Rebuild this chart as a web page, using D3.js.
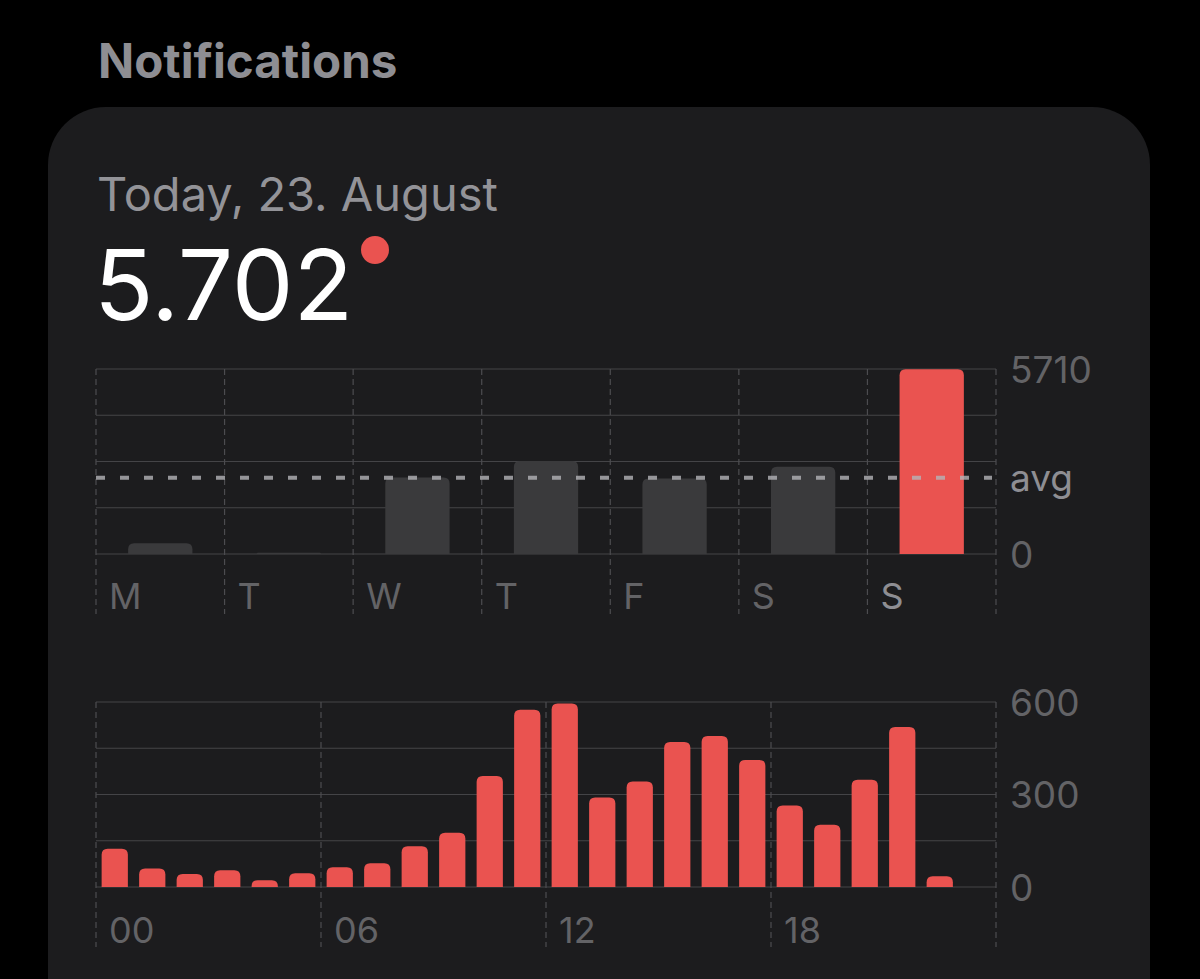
<!DOCTYPE html>
<html>
<head>
<meta charset="utf-8">
<script src="https://cdn.jsdelivr.net/npm/d3@7"></script>
<style>
  html, body { margin: 0; padding: 0; background: #000; }
  svg { display: block; }
  text { font-family: Inter, "Liberation Sans", Arial, sans-serif; }
</style>
</head>
<body>
<svg id="chart" width="1200" height="979"></svg>
<script>
// ---- data ----
const sectionTitle = "Notifications";
const dateLabel = "Today, 23. August";
const totalLabel = "5.702";

const days = ["M", "T", "W", "T", "F", "S", "S"];
const dayValues = [330, 40, 2360, 2870, 2330, 2695, 5702];
const dayMax = 5710;
const avgValue = 2350;
const dayTickLabels = ["0", "avg", "5710"];

const hours = [0,1,2,3,4,5,6,7,8,9,10,11,12,13,14,15,16,17,18,19,20,21,22,23];
const hourValues = [124, 60, 42, 54, 22, 45, 64, 77, 132, 176, 360, 575, 595, 290, 342, 470, 490, 412, 264, 202, 348, 519, 35, 0];
const hourMax = 600;
const hourTicks = [0, 300, 600];
const hourTickLabels = ["00", "06", "12", "18"];
const hourTickHours = [0, 6, 12, 18];

// ---- style ----
const C = {
  bg: "#000000", card: "#1c1c1e", grid: "#444447", vgrid: "#4c4c50",
  gray: "#3a3a3c", red: "#ea5350", label: "#636366", labelHi: "#8e8e93",
  title: "#8e8e93", white: "#ffffff"
};

const svg = d3.select("#chart");
svg.append("rect").attr("width", 1200).attr("height", 979).attr("fill", C.bg);

// card
svg.append("rect").attr("x", 48).attr("y", 107).attr("width", 1102).attr("height", 960)
  .attr("rx", 58).attr("fill", C.card);

svg.append("text").attr("x", 98).attr("y", 78).text(sectionTitle)
  .attr("font-size", 47.5).attr("font-weight", 700).attr("fill", C.title);
svg.append("text").attr("x", 97).attr("y", 211).text(dateLabel)
  .attr("font-size", 47).attr("fill", "#939398");
svg.append("text").attr("x", 94).attr("y", 320).text(totalLabel)
  .attr("font-size", 98).attr("fill", C.white);
svg.append("circle").attr("cx", 375).attr("cy", 250).attr("r", 14).attr("fill", C.red);

function topRoundedBar(x, y, w, h, r) {
  r = Math.min(r, h, w / 2);
  return `M${x},${y + h}V${y + r}Q${x},${y} ${x + r},${y}H${x + w - r}Q${x + w},${y} ${x + w},${y + r}V${y + h}Z`;
}

const left = 96, right = 996;

// ---- weekly chart ----
const xDay = d3.scaleBand().domain(d3.range(days.length)).range([left, right])
  .paddingInner(0.5).paddingOuter(0.25);
const yDay = d3.scaleLinear().domain([0, dayMax]).range([554, 369]);
const g1 = svg.append("g");

g1.selectAll("line.h").data(d3.range(5).map(i => dayMax * i / 4)).join("line")
  .attr("x1", left).attr("x2", right).attr("y1", d => yDay(d)).attr("y2", d => yDay(d))
  .attr("stroke", C.grid).attr("stroke-width", 1.2);
const dayEdges = d3.range(days.length + 1).map(i => left + i * xDay.step());
g1.selectAll("line.v").data(dayEdges).join("line")
  .attr("x1", d => d).attr("x2", d => d).attr("y1", 369).attr("y2", 614)
  .attr("stroke", C.vgrid).attr("stroke-width", 1.2).attr("stroke-dasharray", "6,4");

g1.selectAll("path.bar").data(dayValues).join("path")
  .attr("d", (d, i) => topRoundedBar(xDay(i), yDay(d), xDay.bandwidth(), yDay(0) - yDay(d), 6))
  .attr("fill", (d, i) => i === days.length - 1 ? C.red : C.gray);

g1.append("line").attr("x1", left).attr("x2", right - 4)
  .attr("y1", yDay(avgValue)).attr("y2", yDay(avgValue))
  .attr("stroke", "#b4b4b8").attr("stroke-opacity", 0.8).attr("stroke-width", 4)
  .attr("stroke-dasharray", "9,15");

g1.selectAll("text.day").data(days).join("text")
  .attr("x", (d, i) => dayEdges[i] + 13).attr("y", 609).text(d => d)
  .attr("font-size", 36).attr("fill", (d, i) => i === days.length - 1 ? C.labelHi : C.label);

const dayTickVals = [0, avgValue, dayMax];
g1.selectAll("text.tick").data(dayTickVals).join("text")
  .attr("x", 1010).attr("y", d => yDay(d) + 13.5).text((d, i) => dayTickLabels[i])
  .attr("font-size", 37).attr("fill", (d, i) => i === 1 ? C.labelHi : C.label);

// ---- hourly chart ----
const xHour = d3.scaleBand().domain(hours).range([left, right]).paddingInner(0.3).paddingOuter(0.15);
const xHourEdge = d3.scaleLinear().domain([0, 24]).range([left, right]);
const yHour = d3.scaleLinear().domain([0, hourMax]).range([887, 702]);
const g2 = svg.append("g");

g2.selectAll("line.h").data(d3.range(5).map(i => hourMax * i / 4)).join("line")
  .attr("x1", left).attr("x2", right).attr("y1", d => yHour(d)).attr("y2", d => yHour(d))
  .attr("stroke", C.grid).attr("stroke-width", 1.2);
g2.selectAll("line.v").data([0, 6, 12, 18, 24]).join("line")
  .attr("x1", d => xHourEdge(d)).attr("x2", d => xHourEdge(d)).attr("y1", 702).attr("y2", 947)
  .attr("stroke", C.vgrid).attr("stroke-width", 1.2).attr("stroke-dasharray", "6,4");

g2.selectAll("path.bar").data(hours.filter((h, i) => hourValues[i] > 0)).join("path")
  .attr("d", h => topRoundedBar(xHour(h), yHour(hourValues[h]), xHour.bandwidth(),
    yHour(0) - yHour(hourValues[h]), 6))
  .attr("fill", C.red);

g2.selectAll("text.hl").data(hourTickHours).join("text")
  .attr("x", d => xHourEdge(d) + 13).attr("y", 943).text((d, i) => hourTickLabels[i])
  .attr("font-size", 36).attr("fill", C.label);

g2.selectAll("text.tick").data(hourTicks).join("text")
  .attr("x", 1010).attr("y", d => yHour(d) + 13.5).text(d => d)
  .attr("font-size", 37).attr("fill", C.label);
</script>
</body>
</html>
